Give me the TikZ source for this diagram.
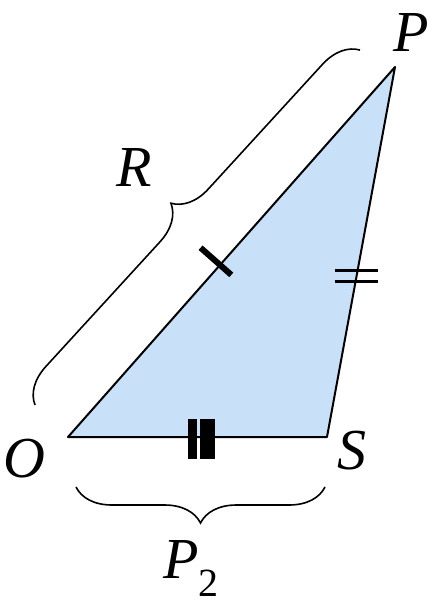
\documentclass[tikz,border=0pt]{standalone}
\usepackage{fontspec}
\setmainfont{Liberation Serif}
\usepackage{xcolor}
\definecolor{trifill}{RGB}{200,225,248}
\usetikzlibrary{calc,decorations.pathreplacing}

\begin{document}
\begin{tikzpicture}[x=0.5pt,y=-0.5pt,
  lbl/.style={inner sep=0pt,font=\fontsize{29}{30}\selectfont\itshape},
  brc/.style={decorate,decoration={brace,amplitude=18pt},line width=0.8pt},
  mark1/.style={line width=3pt},
  mark2/.style={line width=1.5pt}]
  \useasboundingbox (0,0) rectangle (436,607);
  % Triangle
  \coordinate (O) at (68,437);
  \coordinate (S) at (327,437);
  \coordinate (P) at (395,67);
  \filldraw[fill=trifill,line width=1pt,line join=round] (O) -- (P) -- (S) -- cycle;
  % Vertex labels
  \node[lbl] (lO) at (24,459) {O};
  \node[lbl] (lS) at (352,451) {S};
  \node[lbl] (lP) at (411,33) {P};
  % Braces
  \coordinate (r1) at (35,405);
  \coordinate (r2) at (360,50);
  \draw[brc] (r1) -- (r2);
  \node[lbl] (lR) at (134,168) {R};
  \coordinate (b1) at (325,487);
  \coordinate (b2) at (76,487);
  \draw[brc] (b1) -- (b2);
  \node[lbl,anchor=base west] (lP2) at (163,578) {P\raisebox{-9pt}{\upshape\fontsize{20}{21}\selectfont 2}};
  % Equal-length marks
  \coordinate (t1) at ($(O)!0.465!(P)$);
  \draw[mark1] ($(t1)!13pt!90:(P)$) -- ($(t1)!7.5pt!-90:(P)$);
  \coordinate (t2) at ($(P)!0.565!(S)$);
  \draw[mark2] ($(t2)+(-22,-5.5)$) -- ($(t2)+(21,-5.5)$);
  \draw[mark2] ($(t2)+(-22,5.5)$) -- ($(t2)+(21,5.5)$);
  \fill (188,419) rectangle (197,459);
  \fill (200,419) rectangle (215,459);
\end{tikzpicture}
\end{document}
